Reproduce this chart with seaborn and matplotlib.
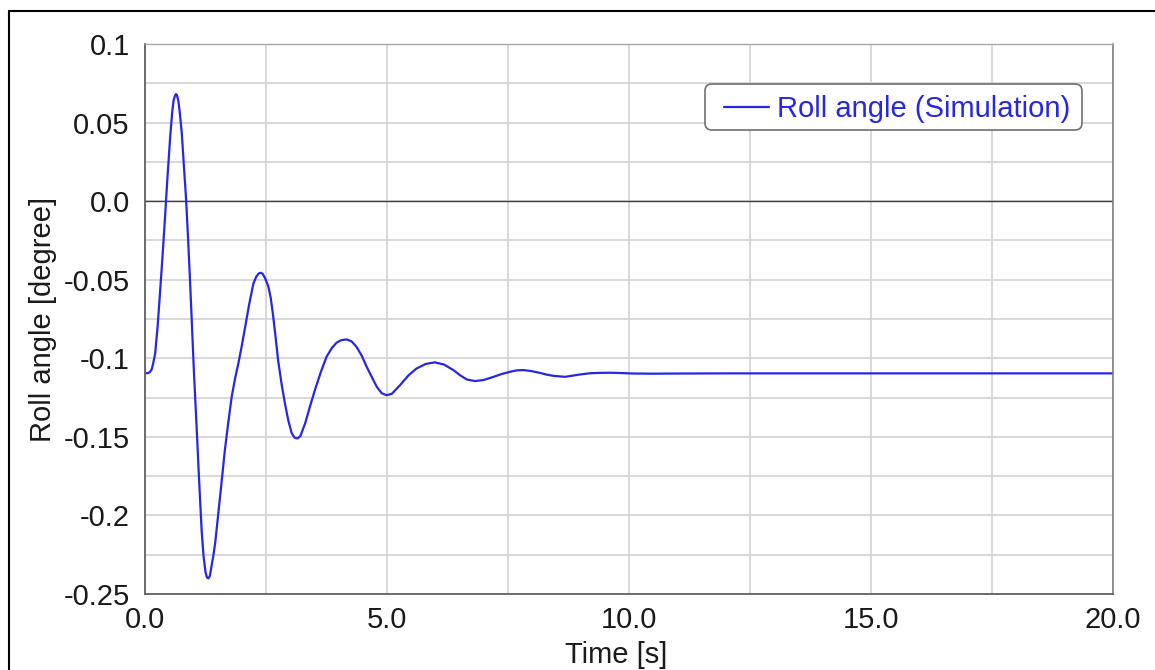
import numpy as np
import pandas as pd
import matplotlib
matplotlib.use("Agg")
import matplotlib.pyplot as plt
from matplotlib.ticker import MultipleLocator, FixedLocator, FixedFormatter
from matplotlib.lines import Line2D
from matplotlib.patches import FancyBboxPatch
import seaborn as sns

# Simulated roll angle response (time in s, angle in degree)
time_s = [0.00, 0.06, 0.10, 0.14, 0.17, 0.21, 0.26, 0.31, 0.36, 0.41, 0.46, 0.52,
          0.56, 0.59, 0.62, 0.64, 0.66, 0.69, 0.72, 0.76, 0.80, 0.85, 0.89, 0.93,
          0.97, 1.01, 1.07, 1.12, 1.17, 1.21, 1.25, 1.28, 1.31, 1.34, 1.37, 1.41,
          1.45, 1.50, 1.55, 1.60, 1.65, 1.72, 1.79, 1.86, 1.93, 2.00, 2.07, 2.15,
          2.24, 2.30, 2.35, 2.39, 2.43, 2.48, 2.55, 2.60, 2.65, 2.70, 2.75, 2.82,
          2.89, 2.96, 3.03, 3.09, 3.15, 3.21, 3.31, 3.41, 3.51, 3.63, 3.75, 3.86,
          3.96, 4.06, 4.17, 4.27, 4.37, 4.48, 4.58, 4.69, 4.79, 4.89, 4.99, 5.10,
          5.27, 5.44, 5.61, 5.80, 5.99, 6.18, 6.37, 6.51, 6.65, 6.82, 7.00, 7.20,
          7.37, 7.54, 7.68, 7.82, 7.99, 8.16, 8.30, 8.44, 8.68, 8.99, 9.20, 9.40,
          9.60, 9.75, 10.1, 10.5, 11.0, 12.0, 14.0, 16.0, 18.0, 20.0]
roll_deg = [-0.1096, -0.1094, -0.1088, -0.1070, -0.1031, -0.0969, -0.0800, -0.0585,
            -0.0360, -0.0121, 0.0130, 0.0407, 0.0560, 0.0640, 0.0672, 0.0681,
            0.0674, 0.0638, 0.0560, 0.0433, 0.0240, 0.0006, -0.0240, -0.0503,
            -0.0790, -0.1080, -0.1460, -0.1790, -0.2094, -0.2260, -0.2360, -0.2395,
            -0.2401, -0.2385, -0.2330, -0.2260, -0.2176, -0.2030, -0.1884, -0.1735,
            -0.1585, -0.1410, -0.1247, -0.1130, -0.1031, -0.0920, -0.0800, -0.0660,
            -0.0524, -0.0480, -0.0460, -0.0456, -0.0462, -0.0490, -0.0545, -0.0620,
            -0.0736, -0.0870, -0.1012, -0.1160, -0.1285, -0.1395, -0.1476, -0.1505,
            -0.1510, -0.1495, -0.1413, -0.1305, -0.1203, -0.1090, -0.0991, -0.0935,
            -0.0900, -0.0884, -0.0880, -0.0893, -0.0927, -0.0985, -0.1054, -0.1122,
            -0.1182, -0.1222, -0.1235, -0.1226, -0.1171, -0.1110, -0.1065, -0.1036,
            -0.1026, -0.1040, -0.1075, -0.1108, -0.1135, -0.1145, -0.1138, -0.1118,
            -0.1100, -0.1086, -0.1077, -0.1075, -0.1082, -0.1093, -0.1104, -0.1112,
            -0.1118, -0.1103, -0.1095, -0.1093, -0.1092, -0.1093, -0.1097, -0.1098,
            -0.1097, -0.1096, -0.1096, -0.1096, -0.1096, -0.1096]

y_ticks = [0.1, 0.05, 0.0, -0.05, -0.1, -0.15, -0.2, -0.25]
y_tick_labels = ["0.1", "0.05", "0.0", "-0.05", "-0.1", "-0.15", "-0.2", "-0.25"]
x_ticks = [0.0, 5.0, 10.0, 15.0, 20.0]
x_tick_labels = ["0.0", "5.0", "10.0", "15.0", "20.0"]

series_name = "Roll angle (Simulation)"
df = pd.DataFrame({"Time [s]": time_s, "Roll angle [degree]": roll_deg,
                   "series": series_name})

sns.set_style("white")
plt.rcParams["font.family"] = ["Liberation Sans", "DejaVu Sans"]
plt.rcParams["axes.unicode_minus"] = False

W, H = 1155, 670
fig = plt.figure(figsize=(W / 100, H / 100), dpi=100)
ax = fig.add_axes([145 / W, 1 - 594 / H, (1113 - 145) / W, (594 - 44) / H])

line_blue = "#2626e6"
sns.lineplot(data=df, x="Time [s]", y="Roll angle [degree]", hue="series",
             palette=[line_blue], linewidth=1.6, ax=ax, legend=False)
for ln in ax.get_lines():
    ln.set_solid_joinstyle("round")

ax.set_xlim(0, 20)
ax.set_ylim(-0.25, 0.1)

# major ticks with labels, minor ticks between them
ax.yaxis.set_major_locator(FixedLocator(y_ticks))
ax.yaxis.set_major_formatter(FixedFormatter(y_tick_labels))
ax.yaxis.set_minor_locator(MultipleLocator(0.025))
ax.xaxis.set_major_locator(FixedLocator(x_ticks))
ax.xaxis.set_major_formatter(FixedFormatter(x_tick_labels))
ax.xaxis.set_minor_locator(MultipleLocator(2.5))

grid_col = "#d2d2d2"
ax.grid(True, which="both", color=grid_col, linewidth=1.2)
ax.set_axisbelow(True)
ax.axhline(0.0, color="#404040", linewidth=1.0, zorder=1.5)

for side in ["left", "bottom"]:
    ax.spines[side].set_color("#606060")
    ax.spines[side].set_linewidth(1.3)
ax.spines["top"].set_color("#a8a8a8")
ax.spines["top"].set_linewidth(1.0)
ax.spines["right"].set_color("#808080")
ax.spines["right"].set_linewidth(1.2)

ax.tick_params(axis="both", which="both", direction="out", length=5,
               width=1.0, color="#606060", labelsize=21, labelcolor="#1a1a1a")
ax.tick_params(axis="y", which="both", pad=6)
ax.tick_params(axis="x", which="both", pad=4)

ax.set_xlabel("Time [s]", fontsize=21, color="#1a1a1a")
ax.set_ylabel("Roll angle [degree]", fontsize=21, color="#1a1a1a", labelpad=5)
ax.xaxis.set_label_coords(0.487, -0.086)

# legend entry without its own frame; a rounded box is drawn behind it
handle = Line2D([], [], color=line_blue, linewidth=1.6)
leg = ax.legend([handle], [series_name], loc="upper right",
                bbox_to_anchor=(1070 / W, 1 - 95 / H), bbox_transform=fig.transFigure,
                fontsize=21, frameon=False, handlelength=1.55, handletextpad=0.25,
                borderpad=0.0, borderaxespad=0.0)
for txt in leg.get_texts():
    txt.set_color(line_blue)
leg.set_zorder(6)

box_x0, box_x1, box_top, box_bot = 705, 1082, 84, 130
legend_box = FancyBboxPatch((box_x0 / W, 1 - box_bot / H),
                            (box_x1 - box_x0) / W, (box_bot - box_top) / H,
                            boxstyle="round,pad=0,rounding_size=0.006",
                            transform=fig.transFigure, facecolor="white",
                            edgecolor="#707070", linewidth=1.2, zorder=5,
                            mutation_aspect=W / H, clip_on=False)
ax.add_patch(legend_box)

# outer frame around the figure
x0, ytop = 9 / W, 1 - 11 / H
fig.add_artist(Line2D([x0, x0], [0, ytop], transform=fig.transFigure,
                      color="black", linewidth=1.5))
fig.add_artist(Line2D([x0, 1.0], [ytop, ytop], transform=fig.transFigure,
                      color="black", linewidth=1.5))

fig.savefig("out.png", dpi=100, facecolor="white")
